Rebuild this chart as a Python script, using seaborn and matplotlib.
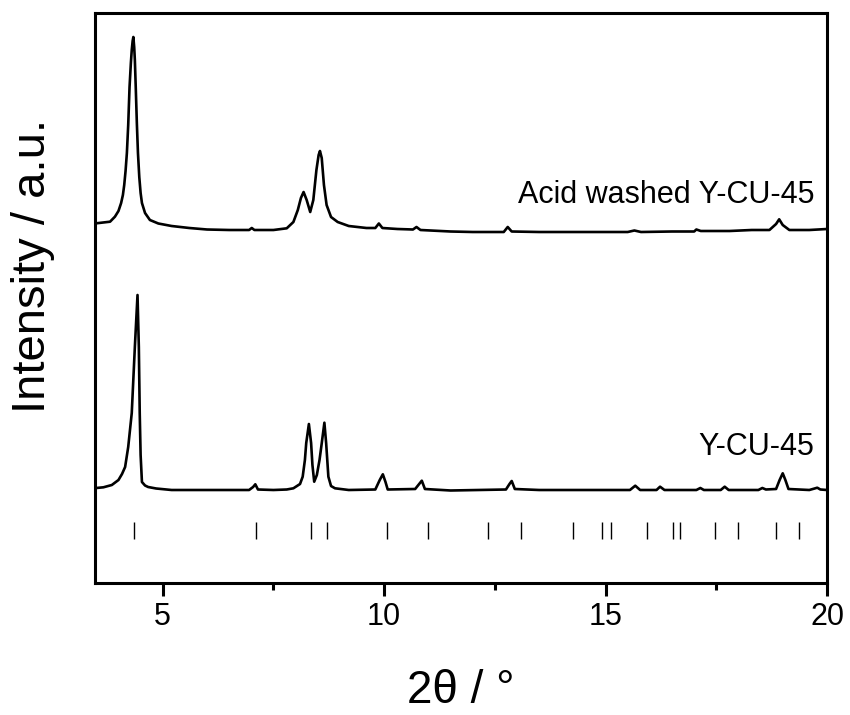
import matplotlib
matplotlib.use("Agg")
import matplotlib.pyplot as plt
from matplotlib.ticker import MultipleLocator
import seaborn as sns
import pandas as pd
import numpy as np

# Digitised XRD patterns (2theta in degrees, intensity in a.u. above each baseline)
acid_2theta = [3.5, 3.81, 3.92, 4.0, 4.06, 4.10, 4.13, 4.16, 4.19, 4.22, 4.25, 4.28,
               4.30, 4.32, 4.336, 4.355, 4.37, 4.39, 4.415, 4.44, 4.47, 4.50, 4.53,
               4.6, 4.71, 4.9, 5.2, 5.6, 6.0, 6.5, 6.95, 7.01, 7.07, 7.5,
               7.8, 7.95, 8.05, 8.12, 8.18, 8.25, 8.33, 8.40, 8.47, 8.52, 8.55, 8.59,
               8.64, 8.70, 8.80, 8.95, 9.2, 9.6, 9.8, 9.88, 9.96, 10.3, 10.65, 10.73,
               10.82, 11.5, 12.0, 12.7, 12.79, 12.88, 13.5, 14.5, 15.5, 15.65, 15.8,
               16.5, 17.0, 17.05, 17.15, 17.8, 18.3, 18.7, 18.85, 18.92, 19.0, 19.15,
               19.6, 20.0]
acid_intensity = [9.7, 11.3, 16.3, 22, 30, 38, 48, 62, 80, 108, 146, 170,
                  183, 192, 196, 186, 173, 146, 110, 80, 56, 40, 30,
                  20, 13, 9.5, 7, 5, 3.5, 3, 3, 5, 3, 3,
                  4.7, 11, 23, 35, 41, 33, 21, 33, 63, 78, 82, 75,
                  48, 28, 16, 11, 7, 5, 5, 9.5, 5, 4, 3.5, 6,
                  3, 1.5, 1, 1, 6, 1.5, 1, 1, 1, 2.5, 1,
                  1.5, 1.5, 3.5, 2, 2, 3, 3, 9, 13.7, 8, 3,
                  3, 4]

ycu_2theta = [3.5, 3.66, 3.85, 4.0, 4.08, 4.15, 4.22, 4.30, 4.37, 4.43, 4.46, 4.48,
              4.50, 4.53, 4.60, 4.67, 4.85, 5.2, 6.0, 6.95, 7.04, 7.09, 7.15, 7.5, 7.8, 7.95,
              8.10, 8.16, 8.21, 8.24, 8.30, 8.35, 8.38, 8.42, 8.48, 8.54, 8.59, 8.65,
              8.69, 8.74, 8.80, 8.89, 9.2, 9.8, 9.9, 9.97, 10.03, 10.08, 10.7, 10.79,
              10.85, 10.92, 11.5, 12.75, 12.83, 12.88, 12.95, 13.5, 15.55, 15.67,
              15.78, 16.15, 16.23, 16.33, 17.05, 17.14, 17.22, 17.6, 17.69, 17.78,
              18.45, 18.54, 18.62, 18.85, 18.93, 19.0, 19.06, 19.13, 19.6, 19.72,
              19.78, 19.85, 20.0]
ycu_intensity = [3, 3.7, 6, 11, 17, 24, 44, 78, 144, 196, 144, 78,
                 36, 9, 5.5, 4, 2.5, 1, 1, 1, 4, 6.7, 1.5, 1, 1.5, 2.7,
                 7, 14.3, 31, 48, 67, 48, 26, 9.3, 16, 31, 47.7, 68.3,
                 47.7, 14.3, 5, 2.7, 1, 1.5, 11, 16.7, 9, 1.5, 2, 7,
                 10.3, 2, 0.5, 1.5, 7, 10, 2, 1, 1, 5.3,
                 1, 1, 4.3, 1, 1, 3, 1, 1, 4.3, 1,
                 1, 3, 1.5, 2, 11, 17.7, 11, 2, 1, 2.5,
                 3.3, 1.5, 1]

# Reference reflection positions (2theta)
ref_positions = [4.35, 7.11, 8.34, 8.72, 10.06, 10.99, 12.34, 13.09, 14.26, 14.91,
                 15.13, 15.94, 16.52, 16.69, 17.46, 18.0, 18.84, 19.36]

labels = ["Acid washed Y-CU-45", "Y-CU-45"]
offsets = [350, 92]

sns.set_theme(style="ticks")
plt.rcParams["font.family"] = ["Liberation Sans", "DejaVu Sans"]
plt.rcParams["text.color"] = "black"

fig = plt.figure(figsize=(8.5, 7.15), dpi=100)
ax = fig.add_axes([95 / 850, 1 - 583 / 715, 732 / 850, 570 / 715])

df = pd.concat([
    pd.DataFrame({"2theta": acid_2theta, "y": np.array(acid_intensity) + offsets[0], "sample": labels[0]}),
    pd.DataFrame({"2theta": ycu_2theta, "y": np.array(ycu_intensity) + offsets[1], "sample": labels[1]}),
])

sns.lineplot(data=df, x="2theta", y="y", units="sample", estimator=None, sort=False,
             color="black", linewidth=1.9, ax=ax)

ax.vlines(ref_positions, 44, 61, color="black", linewidth=1.0)

ax.text(19.72, 380, labels[0], ha="right", va="baseline", fontsize=22, color="black")
ax.text(19.72, 128, labels[1], ha="right", va="baseline", fontsize=22, color="black")

ax.set_xlim(3.47, 20)
ax.set_ylim(0, 570)
ax.set_yticks([])
ax.set_xticks([5, 10, 15, 20])
ax.xaxis.set_minor_locator(MultipleLocator(2.5))
ax.tick_params(axis="x", which="major", direction="out", length=9, width=2.2,
               labelsize=22, pad=5, color="black", labelcolor="black")
ax.tick_params(axis="x", which="minor", direction="out", length=5, width=2.2, color="black")
for sp in ax.spines.values():
    sp.set_visible(True)
    sp.set_linewidth(2.2)
    sp.set_color("black")

ax.set_xlabel("")
ax.set_ylabel("")
fig.text(461 / 850, 1 - 691 / 715, "2θ / °", ha="center", va="center", fontsize=33,
         color="black")
fig.text(33 / 850, 1 - 266 / 715, "Intensity / a.u.", ha="center", va="center",
         rotation=90, fontsize=34, color="black")

fig.savefig("out.png", dpi=100)
